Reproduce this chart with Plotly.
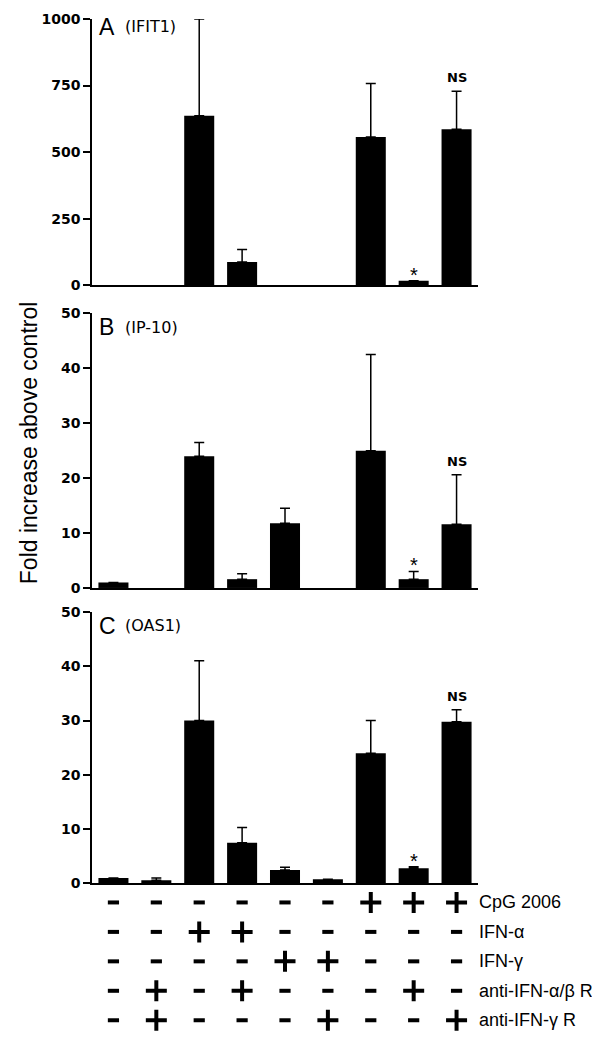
import plotly.graph_objects as go

conditions = list(range(9))
ifit1 = [None, None, 637, 88, None, None, 557, 18, 586]
ifit1_err = [0, 0, 363, 47, 0, 0, 201, 0, 143]
ip10 = [1.0, None, 24.0, 1.6, 11.8, None, 25.0, 1.6, 11.6]
ip10_err = [0, 0, 2.5, 1.0, 2.7, 0, 17.5, 1.4, 9.0]
oas1 = [1.0, 0.6, 30.0, 7.5, 2.5, 0.8, 24.0, 2.8, 29.8]
oas1_err = [0, 0.4, 11.0, 2.8, 0.5, 0, 6.0, 0.3, 2.2]

treat_labels = ["CpG 2006", "IFN-α", "IFN-γ", "anti-IFN-α/β R", "anti-IFN-γ R"]
treat_matrix = [
    "------+++",
    "--++-----",
    "----++---",
    "-+-+---+-",
    "-+---+--+",
]

panels = [("A", "(IFIT1)", ifit1, ifit1_err, [0, 250, 500, 750, 1000], 1000),
          ("B", "(IP-10)", ip10, ip10_err, [0, 10, 20, 30, 40, 50], 50),
          ("C", "(OAS1)", oas1, oas1_err, [0, 10, 20, 30, 40, 50], 50)]

FW, FH, OFF = 584.0, 1024.0, 8.0


def px_x(p):
    return (p - OFF) / FW


def fig_y(p):
    # reference pixel row -> figure pixel row
    return max(3.0, (p - 6.2) / 0.986 - OFF)


def px_y(p):
    return min(1.0, max(0.0, 1 - fig_y(p) / FH))


xdom = [px_x(92), px_x(478)]
ypix = [(11, 284), (312, 587), (611, 883)]
ydoms = [[px_y(b), px_y(t)] for t, b in ypix]

SANS = "Liberation Sans, Arial, sans-serif"
WIDE = "DejaVu Sans, sans-serif"

fig = go.Figure()
annotations = []
for i, (letter, gene, vals, errs, ticks, ymax) in enumerate(panels):
    xa = "x" if i == 0 else f"x{i+1}"
    ya = "y" if i == 0 else f"y{i+1}"
    fig.add_trace(go.Bar(
        x=conditions, y=vals, width=0.7, xaxis=xa, yaxis=ya,
        marker=dict(color="black", line=dict(width=0)),
        error_y=dict(type="data", array=errs, arrayminus=[0] * 9, symmetric=False,
                     color="black", thickness=1.5, width=5, visible=True),
        showlegend=False, hoverinfo="skip", cliponaxis=False))
    axkw = dict(domain=xdom, range=[-0.5, 8.5], showline=True, linecolor="black",
                linewidth=1.5, showticklabels=False, ticks="", showgrid=False,
                zeroline=False, fixedrange=True)
    yakw = dict(domain=ydoms[i], range=[0, ymax], showline=True, linecolor="black",
                linewidth=1.5, tickvals=ticks, ticks="outside", ticklen=7,
                tickwidth=1.5, tickcolor="black", showgrid=False, zeroline=False,
                tickfont=dict(family=WIDE, size=14, color="black", weight="bold"),
                anchor=xa, fixedrange=True)
    if i == 0:
        fig.update_layout(xaxis=dict(axkw, anchor="y"), yaxis=yakw)
    else:
        fig.update_layout(**{f"xaxis{i+1}": dict(axkw, anchor=ya),
                             f"yaxis{i+1}": yakw})
    top = ypix[i][0]
    annotations.append(dict(xref="paper", yref="paper", x=px_x(97), y=px_y(top + 14),
                            xanchor="left", yanchor="middle", showarrow=False,
                            text=letter, font=dict(family=SANS, size=23, color="black")))
    annotations.append(dict(xref="paper", yref="paper", x=px_x(123), y=px_y(top + 14),
                            xanchor="left", yanchor="middle", showarrow=False,
                            text=gene, font=dict(family=WIDE, size=16, color="black")))
    top9 = vals[8] + errs[8]
    annotations.append(dict(xref=xa, yref=ya, x=8, y=top9, yanchor="bottom", yshift=4,
                            showarrow=False, text="<b>NS</b>",
                            font=dict(family=WIDE, size=13, color="black")))
    top8 = vals[7] + errs[7]
    annotations.append(dict(xref=xa, yref=ya, x=7, y=top8, yanchor="bottom", yshift=-7,
                            showarrow=False, text="*",
                            font=dict(family=SANS, size=20, color="black")))

# treatment table under panel C, on its own axes sharing the category positions
row_first, row_last = 902.0, 1020.0
tdom = [px_y(row_last), px_y(row_first)]
fig.update_layout(
    xaxis4=dict(domain=xdom, range=[-0.5, 8.5], visible=False, anchor="y4", fixedrange=True),
    yaxis4=dict(domain=tdom, range=[4, 0], visible=False, anchor="x4", fixedrange=True))

plus_x, plus_y, minus_x, minus_y = [], [], [], []
for r, pattern in enumerate(treat_matrix):
    for c, ch in enumerate(pattern):
        if ch == "+":
            plus_x.append(conditions[c]); plus_y.append(r)
        else:
            minus_x.append(conditions[c]); minus_y.append(r)

fig.add_trace(go.Scatter(x=plus_x, y=plus_y, xaxis="x4", yaxis="y4", mode="markers",
                         marker=dict(symbol="cross-thin", size=15, color="black",
                                     line=dict(width=4, color="black")),
                         showlegend=False, hoverinfo="skip", cliponaxis=False))
fig.add_trace(go.Scatter(x=minus_x, y=minus_y, xaxis="x4", yaxis="y4", mode="markers",
                         marker=dict(symbol="line-ew", size=8, color="black",
                                     line=dict(width=4, color="black")),
                         showlegend=False, hoverinfo="skip", cliponaxis=False))
for r, lab in enumerate(treat_labels):
    annotations.append(dict(xref="paper", yref="y4", x=px_x(477), y=r, xanchor="left",
                            yanchor="middle", showarrow=False, text=lab,
                            font=dict(family=SANS, size=18, color="black")))

annotations.append(dict(xref="paper", yref="paper", x=px_x(14), y=px_y(442),
                        textangle=-90, showarrow=False, text="Fold increase above control",
                        font=dict(family=SANS, size=23, color="black")))

fig.update_layout(width=int(FW), height=int(FH), margin=dict(l=0, r=0, t=0, b=0),
                  paper_bgcolor="white", plot_bgcolor="white",
                  annotations=annotations)
fig.write_html("out.html")
